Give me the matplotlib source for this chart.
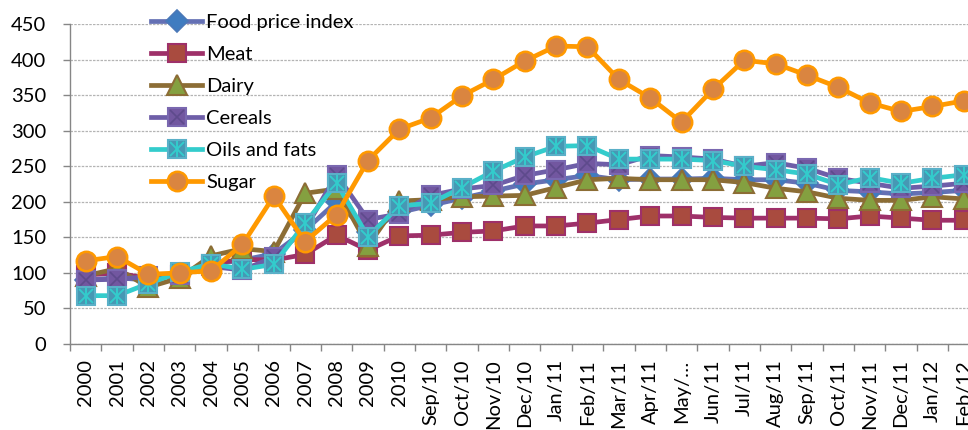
import matplotlib
matplotlib.use("Agg")
import matplotlib.pyplot as plt
import numpy as np

plt.rcParams['font.family'] = ['Lato', 'DejaVu Sans']

categories = ['2000', '2001', '2002', '2003', '2004', '2005', '2006', '2007', '2008', '2009', '2010',
              'Sep/10', 'Oct/10', 'Nov/10', 'Dec/10', 'Jan/11', 'Feb/11', 'Mar/11', 'Apr/11', 'May/\u2026',
              'Jun/11', 'Jul/11', 'Aug/11', 'Sep/11', 'Oct/11', 'Nov/11', 'Dec/11', 'Jan/12', 'Feb/12']

food_price_index = [90, 93, 90, 98, 112, 118, 127, 160, 200, 157, 185,
                    195, 205, 215, 225, 231, 237, 231, 232, 232,
                    233, 231, 231, 226, 216, 214, 211, 213, 216]
meat = [97, 100, 92, 97, 113, 119, 118, 126, 153, 132, 152,
        153, 157, 159, 166, 166, 170, 175, 180, 180,
        178, 177, 177, 177, 176, 180, 177, 174, 174]
dairy = [96, 106, 80, 93, 124, 134, 130, 212, 218, 138, 201,
         203, 207, 208, 209, 220, 231, 233, 231, 231,
         231, 227, 219, 214, 205, 202, 202, 207, 204]
cereals = [90, 91, 95, 97, 109, 104, 122, 162, 238, 175, 183,
           209, 218, 223, 237, 245, 254, 252, 265, 263,
           260, 250, 255, 247, 233, 226, 219, 222, 226]
oils_fats = [68, 68, 85, 101, 113, 105, 112, 170, 226, 151, 194,
             198, 220, 243, 263, 278, 279, 260, 260, 260,
             258, 250, 245, 239, 224, 234, 226, 233, 238]
sugar = [117, 123, 98, 100, 103, 140, 208, 144, 182, 258, 302,
         318, 349, 372, 398, 419, 418, 372, 346, 312,
         358, 399, 394, 378, 361, 339, 327, 334, 342]

yticks = [0, 50, 100, 150, 200, 250, 300, 350, 400, 450]

fig = plt.figure(figsize=(9.68, 4.30), dpi=100)
ax = fig.add_axes([70/968, 86/430, 909.5/968, 320/430])
x = np.arange(len(categories))

lw = 3.4
ms = 13

h_fpi = ax.plot(x, food_price_index, color='#6470B4', lw=lw, marker='D', ms=11,
                mfc='#3F7CC0', mec='#4A78B8', mew=1.2, zorder=3, label='Food price index')[0]
h_meat = ax.plot(x, meat, color='#9E3069', lw=lw, marker='s', ms=ms,
                 mfc='#A94B3F', mec='#9E3069', mew=1.5, zorder=4, label='Meat')[0]
h_dairy = ax.plot(x, dairy, color='#8C6D35', lw=lw, marker='^', ms=ms + 1,
                  mfc='#84A040', mec='#8C6D35', mew=1.5, zorder=5, label='Dairy')[0]
h_cer = ax.plot(x, cereals, color='#6E5EA8', lw=lw, marker='s', ms=ms,
                mfc='#7257A0', mec='#7A68B0', mew=1.5, zorder=6)[0]
h_cer2 = ax.plot(x, cereals, ls='none', marker='x', ms=ms - 3,
                 mec='#5E4A8C', mew=1.2, zorder=6.1)[0]
h_oil = ax.plot(x, oils_fats, color='#33CCCC', lw=lw, marker='s', ms=ms,
                mfc='#4698B4', mec='#5AB0C8', mew=1.5, zorder=7)[0]
h_oil2 = ax.plot(x, oils_fats, ls='none', marker='x', ms=ms - 3,
                 mec='#33CCCC', mew=1.4, zorder=7.1)[0]
h_oil3 = ax.plot(x, oils_fats, ls='none', marker='|', ms=ms - 2,
                 mec='#33CCCC', mew=1.4, zorder=7.1)[0]
h_sug = ax.plot(x, sugar, color='#FF9900', lw=lw, marker='o', ms=ms + 1,
                mfc='#DA8540', mec='#FF9900', mew=1.8, zorder=8, label='Sugar')[0]

ax.set_xlim(-0.5, len(categories) - 0.5)
ax.set_ylim(0, 450)
ax.set_yticks(yticks)
ax.set_yticklabels([str(v) for v in yticks], fontsize=14.5)
ax.set_xticks(x)
ax.set_xticklabels(categories, rotation=90, fontsize=14.5, ha='center', va='top')
ax.set_xticks(np.arange(len(categories) + 1) - 0.5, minor=True)
ax.tick_params(axis='x', which='major', length=0, pad=11)
ax.tick_params(axis='x', which='minor', length=5, color='#868686', width=1)
ax.tick_params(axis='y', length=5, color='#868686', width=1, pad=12)

for s in ['top', 'right']:
    ax.spines[s].set_visible(False)
for s in ['left', 'bottom']:
    ax.spines[s].set_color('#868686')
    ax.spines[s].set_linewidth(1)

ax.set_axisbelow(True)
ax.yaxis.grid(True, color='#B4B4B4', linestyle=(0, (2, 1)), linewidth=0.9)

handles = [h_fpi, h_meat, h_dairy, (h_cer, h_cer2), (h_oil, h_oil2, h_oil3), h_sug]
labels = ['Food price index', 'Meat', 'Dairy', 'Cereals', 'Oils and fats', 'Sugar']
fig.legend(handles, labels, loc='upper left', bbox_to_anchor=(141/968, 1 - 4/430),
           frameon=False, fontsize=14.5, handlelength=2.55, handletextpad=0.2,
           labelspacing=0.74, borderpad=0, numpoints=1)

fig.savefig('out.png', dpi=100)
